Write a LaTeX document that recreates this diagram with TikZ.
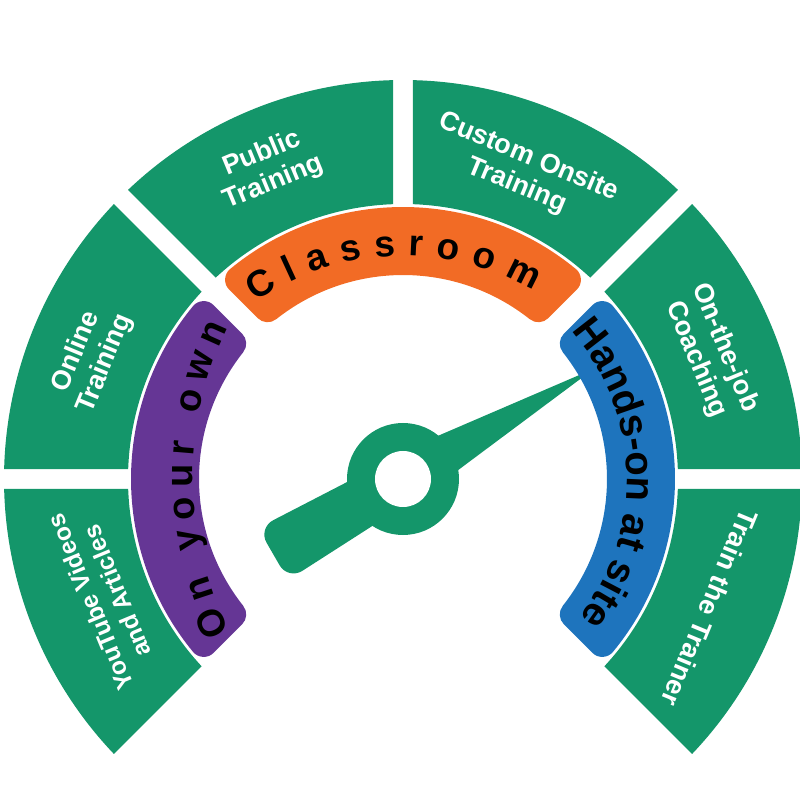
\documentclass[tikz,border=0pt]{standalone}
\usepackage{fontspec}
\setmainfont{Liberation Sans}
\usetikzlibrary{decorations.text}
\definecolor{ggreen}{HTML}{14966A}
\definecolor{gorange}{HTML}{F26B25}
\definecolor{gpurple}{HTML}{653695}
\definecolor{gblue}{HTML}{1E74BD}
\newcommand\lblfont{\bfseries\fontsize{27}{31}\selectfont}
\newcommand\ytfont{\bfseries\fontsize{24.5}{29}\selectfont}
\newcommand\bandfont{\bfseries\fontsize{37}{37}\selectfont}
\newcommand\ownfont{\bfseries\fontsize{38}{38}\selectfont}
\newcommand\handsfont{\bfseries\fontsize{40}{40}\selectfont}
% band: #1 start angle, #2 end angle, #3 colour
\newcommand\gband[3]{%
  \pgfmathsetmacro\bo{asin(25/258)}%
  \pgfmathsetmacro\bi{asin(25/218)}%
  \filldraw[fill=#3, draw=#3, line width=28pt, line join=round]
    ({#1-\bo}:258) arc[start angle={#1-\bo}, end angle={#2+\bo}, radius=258]
    -- ({#2+\bi}:218) arc[start angle={#2+\bi}, end angle={#1-\bi}, radius=218]
    -- cycle;}
\tikzset{
  lbl/.style={text=white, font=\lblfont, align=center, inner sep=0pt},
  ytlbl/.style={lbl, font=\ytfont},
}
\begin{document}
\begin{tikzpicture}[x=1pt,y=1pt]
\useasboundingbox (-403,-321) rectangle (397,479);
% outer green segments
\pgfmathsetmacro\dO{asin(10/399)}
\pgfmathsetmacro\dI{asin(10/275)}
\foreach \a in {225,180,135,90,45,0}{
  \fill[ggreen] ({\a-\dO}:399) arc[start angle={\a-\dO}, end angle={\a-45+\dO}, radius=399]
    -- ({\a-45+\dI}:275) arc[start angle={\a-45+\dI}, end angle={\a-\dI}, radius=275] -- cycle;
}
% needle
\begin{scope}[rotate=30]
  \fill[ggreen] (0,26) -- (208,1.5) -- (208,-1.5) -- (0,-26) -- cycle;
  \fill[ggreen, rounded corners=17pt] (0,23) -- (-150,30) -- (-150,-30) -- (0,-23) -- cycle;
\end{scope}
\fill[ggreen] (0,0) circle[radius=56];
\fill[white] (0,0) circle[radius=28];
% inner bands
\gband{225}{135}{gpurple}
\gband{135}{45}{gorange}
\gband{45}{-45}{gblue}
% band texts
\path[decorate, decoration={text along path, text={|\bandfont|Classroom}, text align=fit to path}]
  ([shift={(0,-37)}]124.6:260) arc[start angle=124.6, end angle=59.9, radius=260];
\path[decorate, decoration={text along path, text={|\ownfont|On your own}, text align=fit to path}]
  ([shift={(133,1)}]206.6:343) arc[start angle=206.6, end angle=153.9, radius=343];
\path[decorate, decoration={text along path, text={|\handsfont|Hands-on at site}, text align=center}]
  (45:224) arc[start angle=45, end angle=-41.6, radius=224];
% segment labels
\node[ytlbl, rotate=112.5] (yt) at (201.5:322) {YouTube Videos\\and Articles};
\node[lbl, rotate=67.5] (onl) at (158.8:335) {Online\\Training};
\node[lbl, rotate=22.5] (pub) at (113.5:339) {Public\\Training};
\node[lbl, rotate=-22.5] (cus) at (68.7:330) {Custom Onsite\\Training};
\node[lbl, rotate=-67.5] (otj) at (22.2:332) {On-the-job\\Coaching};
\node[lbl, rotate=-112.5] (ttt) at (-22.8:333) {Train the Trainer};
\end{tikzpicture}
\end{document}
